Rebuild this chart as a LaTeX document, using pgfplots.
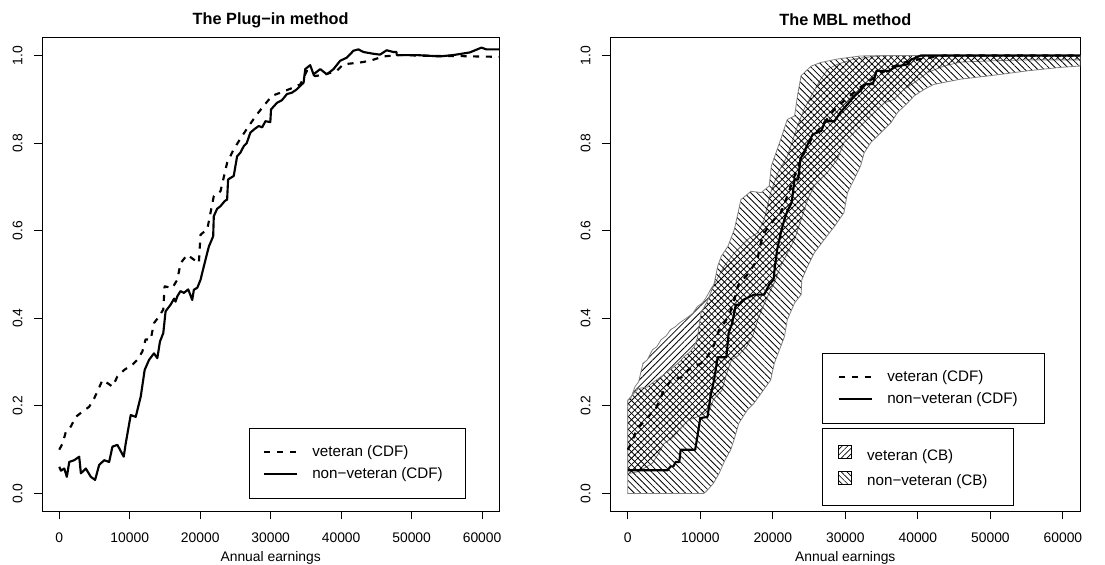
\documentclass[border=0pt]{standalone}
\usepackage{fontspec}
\setmainfont{Liberation Sans}
\usepackage{pgfplots}
\pgfplotsset{compat=1.18}
\usepgfplotslibrary{fillbetween}
\usetikzlibrary{patterns.meta}

\newcommand{\tickfont}{\fontsize{10.4}{12}\selectfont}
\newcommand{\legfont}{\fontsize{11.4}{13}\selectfont}

\pgfplotsset{
  rpanel/.style={
    scale only axis, height=354.75pt,
    xmin=-2400, xmax=62400, ymin=-0.04, ymax=1.04,
    xtick={0,10000,20000,30000,40000,50000,60000},
    ytick={0,0.2,0.4,0.6,0.8,1},
    scaled x ticks=false,
    /pgf/number format/assume math mode=true,
    xticklabel style={/pgf/number format/fixed, /pgf/number format/set thousands separator={}},
    yticklabel style={/pgf/number format/fixed, /pgf/number format/fixed zerofill, /pgf/number format/precision=1},
    tick label style={font=\tickfont},
    yticklabel style={xshift=-12.25pt, rotate=90, anchor=center},
    xticklabel style={anchor=center, yshift=-13.75pt},
    tick align=outside, tick pos=left, major tick length=6.3pt,
    tick style={black, line width=0.75pt},
    axis line style={line width=0.75pt},
    xlabel={Annual earnings},
    xlabel style={at={(axis description cs:0.5,0)}, anchor=center, yshift=-35.5pt, font=\tickfont},
    title style={at={(axis description cs:0.5,1)}, anchor=center, yshift=7.5pt, font=\bfseries\fontsize{12.2}{14}\selectfont},
    legend cell align=left,
    legend style={draw=black, line width=0.6pt, font=\legfont, fill=white,
      inner xsep=10.5pt, inner ysep=12.5pt, row sep=5.5pt, column sep=10.5pt,
      nodes={inner sep=0pt, text height=8.5pt, text depth=2.5pt}},
    legend image code/.code={\draw[#1] (0pt,0pt) -- (24.75pt,0pt);},
  },
  vet/.style={black, line width=1.6pt, line join=round, dash pattern=on 4.5pt off 5pt},
  nonvet/.style={black, line width=1.6pt, line join=round},
  band/.style={draw=black!50, line width=0.6pt, forget plot},
}

\begin{document}
\begin{tikzpicture}

% ---------- left: plug-in ----------
\begin{axis}[rpanel, width=342.5pt, at={(31.75pt,39.75pt)}, anchor=south west,
  title={The Plug−in method},
  legend style={at={(0.452,0.1755)}, anchor=north west}]
\addplot[vet] coordinates {
(0,0.100) (470,0.114) (940,0.141) (1650,0.153) (2360,0.175) (3300,0.187)
(4250,0.198) (4950,0.217) (5420,0.233) (6130,0.259) (6840,0.252) (7550,0.244)
(8250,0.267) (9200,0.282) (10380,0.294) (11080,0.305) (11790,0.324) (12260,0.352)
(12970,0.351) (13440,0.389) (14150,0.404) (14760,0.420) (14950,0.473) (16040,0.469)
(16750,0.488) (17220,0.526) (18160,0.545) (19100,0.534) (19810,0.526) (20050,0.591)
(21000,0.603) (21930,0.679) (22880,0.690) (23820,0.755) (24760,0.786) (25940,0.816)
(26890,0.839) (28070,0.866) (29010,0.885) (30190,0.908) (31370,0.915) (32780,0.924)
(34200,0.934) (35140,0.965) (36320,0.953) (37730,0.957) (39390,0.965) (40330,0.980)
(42690,0.984) (44100,0.988) (45990,0.998) (48350,1.001) (53070,0.999) (55900,0.999)
(58730,0.998) (62400,0.997)};
\addlegendentry{\makebox[104pt][l]{veteran (CDF)}}
\addplot[nonvet] coordinates {
(0,0.061) (240,0.052) (710,0.057) (1080,0.038) (1420,0.072) (2120,0.076)
(2830,0.084) (3070,0.046) (3770,0.057) (4480,0.038) (5090,0.031) (5660,0.065)
(6370,0.076) (7080,0.072) (7550,0.107) (8250,0.111) (9150,0.084) (9430,0.114)
(10140,0.179) (10850,0.175) (11560,0.221) (12120,0.282) (12740,0.305) (13440,0.320)
(13920,0.309) (14290,0.347) (14760,0.366) (15090,0.416) (15800,0.431) (16300,0.445)
(16500,0.438) (16750,0.450) (17200,0.462) (17690,0.458) (18300,0.466) (18870,0.442)
(19100,0.465) (19600,0.470) (20050,0.488) (20520,0.519) (21230,0.564)
(21840,0.587) (21930,0.633) (22400,0.650) (22880,0.656) (23500,0.668) (23820,0.671)
(23960,0.717) (24760,0.725) (25240,0.770) (25700,0.778) (26180,0.793) (26600,0.800)
(27120,0.824) (27700,0.832) (28300,0.839) (28800,0.836) (29250,0.850) (29950,0.848)
(30050,0.877) (30900,0.892) (31600,0.898) (32310,0.912) (33000,0.915) (33730,0.923)
(34670,0.938) (34910,0.969) (35610,0.978) (36080,0.957) (37030,0.969) (37970,0.957)
(38920,0.969) (39860,0.988) (40800,0.995) (41750,1.011) (42450,1.014) (43160,1.008)
(44580,1.004) (45520,1.002) (46460,1.012) (47410,1.008) (47880,1.008) (47880,1.001)
(50710,1.001) (54010,0.998) (55900,1.001) (58250,1.007) (59910,1.018) (60610,1.014)
(62400,1.014)};
\addlegendentry{\makebox[104pt][l]{non−veteran (CDF)}}
\end{axis}

% ---------- right: MBL ----------
\begin{axis}[rpanel, width=352.5pt, at={(457.75pt,39.75pt)}, anchor=south west,
  title={The MBL method},
  legend style={at={(0.4505,0.334)}, anchor=north west, inner xsep=11.75pt}]
\addplot[draw=none, name path=vu, forget plot] coordinates {
(0,0.213) (400,0.216) (1000,0.244) (1500,0.255) (2100,0.297) (2700,0.305)
(3400,0.328) (4000,0.335) (4600,0.351) (5300,0.360) (5900,0.374) (6500,0.380)
(7100,0.389) (7800,0.397) (8400,0.404) (9000,0.412) (9600,0.427) (10300,0.435)
(10900,0.450) (11500,0.468) (12000,0.480) (13300,0.519) (14700,0.549) (16500,0.580)
(17900,0.595) (18800,0.625) (19700,0.687) (20700,0.732) (22000,0.770) (23400,0.839)
(24300,0.877) (25300,0.908) (26600,0.946) (27600,0.969) (28900,0.980) (31200,0.992)
(34400,0.999) (36000,1.000) (62400,1.000)};
\addplot[draw=none, name path=vl, forget plot] coordinates {
(0,0.045) (1500,0.050) (2500,0.060) (3400,0.069) (4200,0.090) (5000,0.114)
(6000,0.125) (6700,0.137) (7500,0.152) (8400,0.168) (9600,0.175) (10500,0.182)
(11300,0.191) (11800,0.214) (13000,0.236) (13500,0.267) (14300,0.305) (15100,0.313)
(16400,0.336) (17200,0.358) (18000,0.400) (19000,0.440) (20200,0.481) (21100,0.519)
(22000,0.549) (23000,0.580) (23900,0.625) (24800,0.671) (25700,0.702) (27500,0.732)
(28900,0.763) (29800,0.801) (31200,0.824) (32100,0.839) (34000,0.870) (35400,0.892)
(36700,0.900) (38100,0.923) (39500,0.938) (41300,0.961) (43600,0.976) (45900,0.985)
(50500,0.988) (55000,0.990) (62400,0.990)};
\addplot[draw=none, name path=nu, forget plot] coordinates {
(0,0.213) (700,0.226) (1500,0.240) (2700,0.243) (3600,0.255) (4600,0.267)
(5500,0.278) (6400,0.290) (7100,0.300) (7800,0.313) (8500,0.322) (9200,0.336)
(9600,0.355) (10100,0.412) (11000,0.440) (11900,0.478) (12400,0.519) (12900,0.542)
(13800,0.564) (14700,0.603) (15200,0.640) (15600,0.671) (17000,0.690) (18400,0.687)
(19500,0.702) (19800,0.748) (21100,0.809) (22000,0.854) (23000,0.862) (23400,0.908)
(23900,0.954) (25300,0.976) (26600,0.984) (28900,0.992) (32100,0.999) (36700,1.000)
(62400,1.000)};
\addplot[draw=none, name path=nl, forget plot] coordinates {
(0,0) (10500,0) (11000,0.008) (11800,0.023) (12600,0.046) (13400,0.076)
(14200,0.100) (14700,0.125) (15300,0.160) (16500,0.191) (17400,0.206) (18400,0.229)
(19700,0.259) (20200,0.297) (21100,0.336) (21600,0.358) (22000,0.397) (23000,0.435)
(23900,0.454) (24000,0.488) (24800,0.519) (25700,0.549) (27100,0.580) (28500,0.610)
(29800,0.641) (30300,0.687) (31200,0.717) (32100,0.748) (32600,0.778) (33500,0.801)
(34900,0.824) (36300,0.847) (37200,0.870) (38600,0.892) (39500,0.908) (40900,0.923)
(42200,0.934) (45900,0.946) (50500,0.955) (55100,0.965) (59700,0.973) (62400,0.976)};
\addplot[band, pattern={Lines[angle=45,distance=3.4pt,line width=0.6pt]}]
  fill between[of=vu and vl];
\addplot[band, pattern={Lines[angle=-45,distance=3.4pt,line width=0.6pt]}]
  fill between[of=nu and nl];
\addplot[vet] coordinates {
(0,0.100) (600,0.118) (1200,0.145) (2000,0.160) (2800,0.175) (3900,0.195)
(5000,0.236) (6000,0.259) (7800,0.267) (8300,0.282) (10100,0.297) (11000,0.313)
(11900,0.339) (12600,0.374) (13300,0.389) (14000,0.408) (14700,0.442) (15200,0.475)
(16500,0.500) (17900,0.534) (18200,0.564) (18800,0.595) (20200,0.626) (21100,0.641)
(22000,0.679) (23000,0.725) (23900,0.763) (25300,0.809) (27100,0.847) (28500,0.877)
(29800,0.896) (31700,0.923) (34000,0.950) (36300,0.973) (38100,0.984) (40400,0.992)
(43600,1.000) (62400,1.000)};
\addlegendentry{\makebox[106pt][l]{veteran (CDF)}}
\addplot[nonvet] coordinates {
(0,0.053) (5500,0.053) (5900,0.062) (6300,0.062) (6600,0.072) (7100,0.072)
(7300,0.100) (9300,0.100) (9600,0.130) (10000,0.172) (11000,0.175) (11400,0.221)
(11900,0.259) (12400,0.311) (13600,0.311) (13900,0.366) (14400,0.389) (14900,0.431)
(15300,0.431) (15900,0.442) (17400,0.454) (18800,0.454) (19500,0.477) (20100,0.488)
(20300,0.520) (20600,0.557) (21100,0.595) (21500,0.620) (22000,0.645) (22600,0.664)
(23000,0.717) (23500,0.717) (23800,0.763) (24600,0.790) (25500,0.820) (26700,0.828)
(27200,0.850) (28500,0.850) (29300,0.870) (30100,0.885) (31300,0.908) (32100,0.920)
(32800,0.935) (33800,0.935) (34300,0.965) (36000,0.965) (37000,0.975) (38600,0.980)
(39000,0.990) (40400,1.000) (62400,1.000)};
\addlegendentry{\makebox[106pt][l]{non−veteran (CDF)}}
\end{axis}

% second legend of the right panel (confidence bands)
\begin{axis}[rpanel, width=352.5pt, at={(457.75pt,39.75pt)}, anchor=south west,
  hide axis, title={}, xlabel={},
  legend style={at={(0.4505,0.1755)}, anchor=north west, inner xsep=11.75pt, column sep=11.25pt},
  legend image code/.code={\draw[#1, draw=black, line width=0.5pt] (0pt,-2pt) rectangle (10pt,8pt);}]
\addplot[draw=none, forget plot] coordinates {(0,0) (60000,1)};
\addlegendimage{pattern={Lines[angle=45,distance=3pt,line width=0.5pt]}}
\addlegendentry{\makebox[97.75pt][l]{veteran (CB)}}
\addlegendimage{pattern={Lines[angle=-45,distance=3pt,line width=0.5pt]}}
\addlegendentry{\makebox[97.75pt][l]{non−veteran (CB)}}
\end{axis}

\pgfresetboundingbox
\useasboundingbox (0,0) rectangle (828.75pt,423pt);
\end{tikzpicture}
\end{document}
